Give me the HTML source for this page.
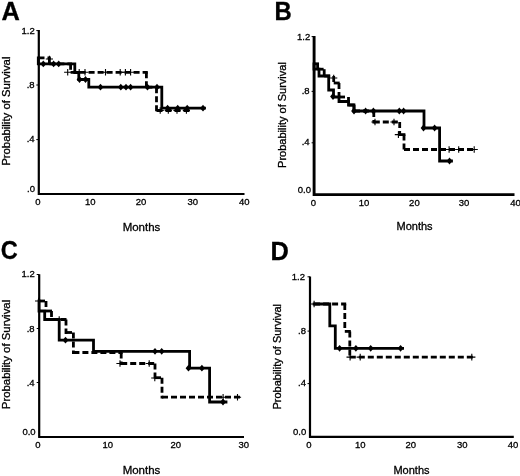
<!DOCTYPE html>
<html><head><meta charset="utf-8"><style>
html,body{margin:0;padding:0;background:#fff;}
svg{display:block;}
#w{width:520px;height:476px;filter:grayscale(1);}
text{font-family:"Liberation Sans", sans-serif;fill:#000;stroke:#000;stroke-width:0.3px;}
</style></head><body><div id="w">
<svg width="520" height="476" viewBox="0 0 520 476">
<rect width="520" height="476" fill="#fff"/>
<text x="0" y="0" font-size="25.4" font-weight="bold" transform="translate(1.5 19.6) scale(1 1)">A</text>
<path d="M38.8 30.0V195.0M37.8 194.0H244.5" stroke="#000" stroke-width="2.2" fill="none"/>
<path d="M36.3 30.6H38.8M36.3 85.0H38.8M36.3 139.6H38.8" stroke="#000" stroke-width="1" fill="none"/>
<text x="34.8" y="33.8" font-size="9.5" text-anchor="end" font-weight="normal" >1.2</text>
<text x="34.6" y="87.8" font-size="9.5" text-anchor="end" font-weight="normal" >.8</text>
<text x="34.6" y="142.0" font-size="9.5" text-anchor="end" font-weight="normal" >.4</text>
<text x="35.0" y="192.0" font-size="9.5" text-anchor="end" font-weight="normal" >.0</text>
<text x="37.8" y="204.7" font-size="9.5" text-anchor="middle" font-weight="normal" >0</text>
<text x="90.3" y="204.7" font-size="9.5" text-anchor="middle" font-weight="normal" >10</text>
<text x="141.0" y="204.7" font-size="9.5" text-anchor="middle" font-weight="normal" >20</text>
<text x="192.7" y="204.7" font-size="9.5" text-anchor="middle" font-weight="normal" >30</text>
<text x="244.2" y="204.7" font-size="9.5" text-anchor="middle" font-weight="normal" >40</text>
<text x="141.5" y="230.9" font-size="11.5" text-anchor="middle" font-weight="normal" >Months</text>
<text x="0" y="0" font-size="11.36" text-anchor="middle" transform="translate(9.7 111.2) rotate(-90)">Probability of Survival</text>
<path d="M38.3 57.8V63.9H74.8V72.5H78.8V79.5H88.8V87.2H161.8V108.2H204.5" stroke="#000" stroke-width="2.8" fill="none" stroke-linejoin="miter" stroke-linecap="square"/>
<g stroke="#000" stroke-width="2.8" fill="none" stroke-linecap="square" stroke-dasharray="3.20 5.80" stroke-dashoffset="-1.40"><path d="M38.5 57.8L49.4 57.8"/><path d="M49.4 57.8L49.4 63.8"/><path d="M49.4 63.8L70.6 63.8"/><path d="M70.6 63.8L70.6 72.3"/><path d="M70.6 72.3L146.4 72.3"/><path d="M146.4 72.3L146.4 87.2"/><path d="M146.4 87.2L156.5 87.2"/><path d="M156.5 87.2L156.5 110.5"/><path d="M156.5 110.5L189.0 110.5"/></g>
<g fill="#000"><path d="M40.4 63.9L43.3 60.5L46.2 63.9L43.3 67.3Z"/><path d="M50.7 63.9L53.6 60.5L56.5 63.9L53.6 67.3Z"/><path d="M55.8 63.9L58.7 60.5L61.6 63.9L58.7 67.3Z"/><path d="M76.6 79.5L79.5 76.1L82.4 79.5L79.5 82.9Z"/><path d="M82.6 79.5L85.5 76.1L88.4 79.5L85.5 82.9Z"/><path d="M97.6 87.2L100.5 83.8L103.4 87.2L100.5 90.6Z"/><path d="M117.9 87.2L120.8 83.8L123.7 87.2L120.8 90.6Z"/><path d="M123.1 87.2L126.0 83.8L128.9 87.2L126.0 90.6Z"/><path d="M127.7 87.2L130.6 83.8L133.5 87.2L130.6 90.6Z"/><path d="M144.6 87.2L147.5 83.8L150.4 87.2L147.5 90.6Z"/><path d="M154.1 87.2L157.0 83.8L159.9 87.2L157.0 90.6Z"/><path d="M164.7 108.2L167.6 104.8L170.5 108.2L167.6 111.6Z"/><path d="M174.8 108.2L177.7 104.8L180.6 108.2L177.7 111.6Z"/><path d="M184.3 108.2L187.2 104.8L190.1 108.2L187.2 111.6Z"/><path d="M200.1 108.2L203.0 104.8L205.9 108.2L203.0 111.6Z"/></g>
<g stroke="#000" fill="none"><path d="M49.4 55.7V62.3M45.8 59.0H53.0" stroke-width="1.1"/><path d="M67.7 69.0V75.6M64.1 72.3H71.3" stroke-width="1.1"/><path d="M79.2 69.0V75.6M75.6 72.3H82.8" stroke-width="1.1"/><path d="M85.0 69.0V75.6M81.4 72.3H88.6" stroke-width="1.1"/><path d="M105.5 69.0V75.6M101.9 72.3H109.1" stroke-width="1.1"/><path d="M120.2 69.0V75.6M116.6 72.3H123.8" stroke-width="1.1"/><path d="M125.4 69.0V75.6M121.8 72.3H129.0" stroke-width="1.1"/><path d="M130.6 69.0V75.6M127.0 72.3H134.2" stroke-width="1.1"/><path d="M160.2 107.2V113.8M156.6 110.5H163.8" stroke-width="1.1"/><path d="M168.3 107.2V113.8M164.7 110.5H171.9" stroke-width="1.1"/><path d="M177.0 107.2V113.8M173.4 110.5H180.6" stroke-width="1.1"/><path d="M186.4 107.2V113.8M182.8 110.5H190.0" stroke-width="1.1"/></g>
<text x="0" y="0" font-size="25.4" font-weight="bold" transform="translate(274.6 19.6) scale(0.94 1)">B</text>
<path d="M314.1 36.0V196.0M313.0 194.6H514.5" stroke="#000" stroke-width="2.9" fill="none"/>
<path d="M311.6 36.6H314.1M311.6 91.4H314.1M311.6 142.8H314.1" stroke="#000" stroke-width="1" fill="none"/>
<text x="310.2" y="40.4" font-size="9.5" text-anchor="end" font-weight="normal" >1.2</text>
<text x="309.6" y="93.6" font-size="9.5" text-anchor="end" font-weight="normal" >.8</text>
<text x="309.6" y="145.1" font-size="9.5" text-anchor="end" font-weight="normal" >.4</text>
<text x="311.0" y="193.0" font-size="9.5" text-anchor="end" font-weight="normal" >0.0</text>
<text x="313.3" y="205.6" font-size="9.5" text-anchor="middle" font-weight="normal" >0</text>
<text x="364.0" y="205.6" font-size="9.5" text-anchor="middle" font-weight="normal" >10</text>
<text x="414.4" y="205.6" font-size="9.5" text-anchor="middle" font-weight="normal" >20</text>
<text x="464.1" y="205.6" font-size="9.5" text-anchor="middle" font-weight="normal" >30</text>
<text x="515.5" y="205.6" font-size="9.5" text-anchor="middle" font-weight="normal" >40</text>
<text x="414.6" y="230.3" font-size="11.0" text-anchor="middle" font-weight="normal" >Months</text>
<text x="0" y="0" font-size="11.0" text-anchor="middle" transform="translate(285.6 115.0) rotate(-90)">Probability of Survival</text>
<path d="M314 63.8V69.2H319V76H328.7V90H333.5V97H339V101.5H348.5V105H354V111H424V128H439.6V161H451.5" stroke="#000" stroke-width="2.8" fill="none" stroke-linejoin="miter" stroke-linecap="square"/>
<g stroke="#000" stroke-width="2.8" fill="none" stroke-linecap="square" stroke-dasharray="3.20 5.80" stroke-dashoffset="-1.40"><path d="M314.0 63.8L317.6 63.8"/><path d="M317.6 63.8L317.6 69.2"/><path d="M317.6 69.2L324.2 69.2"/><path d="M324.2 69.2L324.2 76.0"/><path d="M324.2 76.0L333.7 76.0"/><path d="M333.7 76.0L333.7 83.0"/><path d="M333.7 83.0L339.0 83.0"/><path d="M339.0 83.0L339.0 97.0"/><path d="M339.0 97.0L348.5 97.0"/><path d="M348.5 97.0L348.5 105.0"/><path d="M348.5 105.0L354.0 105.0"/><path d="M354.0 105.0L354.0 111.0"/><path d="M354.0 111.0L373.8 111.0"/><path d="M373.8 111.0L373.8 122.0"/><path d="M373.8 122.0L399.7 122.0"/><path d="M399.7 122.0L399.7 134.6"/><path d="M399.7 134.6L404.0 134.6"/><path d="M404.0 134.6L404.0 149.5"/><path d="M404.0 149.5L474.0 149.5"/></g>
<g fill="#000"><path d="M330.1 96.5L333.0 93.1L335.9 96.5L333.0 99.9Z"/><path d="M351.1 111.0L354.0 107.6L356.9 111.0L354.0 114.4Z"/><path d="M362.7 111.0L365.6 107.6L368.5 111.0L365.6 114.4Z"/><path d="M370.5 111.0L373.4 107.6L376.3 111.0L373.4 114.4Z"/><path d="M396.4 111.0L399.3 107.6L402.2 111.0L399.3 114.4Z"/><path d="M400.7 111.0L403.6 107.6L406.5 111.0L403.6 114.4Z"/><path d="M420.6 128.0L423.5 124.6L426.4 128.0L423.5 131.4Z"/><path d="M431.7 128.0L434.6 124.6L437.5 128.0L434.6 131.4Z"/><path d="M446.6 161.0L449.5 157.6L452.4 161.0L449.5 164.4Z"/></g>
<g stroke="#000" fill="none"><path d="M333.7 74.7V81.3M330.1 78.0H337.3" stroke-width="1.1"/><path d="M375.0 118.7V125.3M371.4 122.0H378.6" stroke-width="1.1"/><path d="M394.0 118.7V125.3M390.4 122.0H397.6" stroke-width="1.1"/><path d="M398.4 131.3V137.9M394.8 134.6H402.0" stroke-width="1.1"/><path d="M449.1 146.2V152.8M445.5 149.5H452.7" stroke-width="1.1"/><path d="M458.7 146.2V152.8M455.1 149.5H462.3" stroke-width="1.1"/><path d="M474.2 146.2V152.8M470.6 149.5H477.8" stroke-width="1.1"/></g>
<text x="0" y="0" font-size="26.2" font-weight="bold" transform="translate(0.7 259.1) scale(0.9 1)">C</text>
<path d="M39.2 274.3V437.5M38.2 437.0H244.0" stroke="#000" stroke-width="2.2" fill="none"/>
<path d="M36.7 274.5H39.2M36.7 328.5H39.2M36.7 382.5H39.2" stroke="#000" stroke-width="1" fill="none"/>
<text x="34.8" y="276.6" font-size="9.5" text-anchor="end" font-weight="normal" >1.2</text>
<text x="34.6" y="331.8" font-size="9.5" text-anchor="end" font-weight="normal" >.8</text>
<text x="34.6" y="385.6" font-size="9.5" text-anchor="end" font-weight="normal" >.4</text>
<text x="35.6" y="435.0" font-size="9.5" text-anchor="end" font-weight="normal" >0.0</text>
<text x="37.8" y="448.0" font-size="9.5" text-anchor="middle" font-weight="normal" >0</text>
<text x="107.7" y="448.0" font-size="9.5" text-anchor="middle" font-weight="normal" >10</text>
<text x="175.8" y="448.0" font-size="9.5" text-anchor="middle" font-weight="normal" >20</text>
<text x="243.7" y="448.0" font-size="9.5" text-anchor="middle" font-weight="normal" >30</text>
<text x="141.5" y="474.1" font-size="11.5" text-anchor="middle" font-weight="normal" >Months</text>
<text x="0" y="0" font-size="11.38" text-anchor="middle" transform="translate(9.7 354.5) rotate(-90)">Probability of Survival</text>
<path d="M39 301V311H44.7V319.5H59.2V340.2H93.5V351.3H189.6V368.2H209.6V402H226" stroke="#000" stroke-width="2.8" fill="none" stroke-linejoin="miter" stroke-linecap="square"/>
<g stroke="#000" stroke-width="2.8" fill="none" stroke-linecap="square" stroke-dasharray="3.20 5.80" stroke-dashoffset="-1.40"><path d="M39.0 301.0L46.0 301.0"/><path d="M46.0 301.0L46.0 311.0"/><path d="M46.0 311.0L51.5 311.0"/><path d="M51.5 311.0L51.5 319.5"/><path d="M51.5 319.5L66.0 319.5"/><path d="M66.0 319.5L66.0 332.5"/><path d="M66.0 332.5L73.4 332.5"/><path d="M73.4 332.5L73.4 352.5"/><path d="M73.4 352.5L121.2 352.5"/><path d="M121.2 352.5L121.2 363.5"/><path d="M121.2 363.5L155.0 363.5"/><path d="M155.0 363.5L155.0 377.7"/><path d="M155.0 377.7L162.0 377.7"/><path d="M162.0 377.7L162.0 397.2"/><path d="M162.0 397.2L239.4 397.2"/></g>
<g fill="#000"><path d="M62.6 340.2L65.5 336.8L68.4 340.2L65.5 343.6Z"/><path d="M152.1 351.3L155.0 347.9L157.9 351.3L155.0 354.7Z"/><path d="M158.8 351.3L161.7 347.9L164.6 351.3L161.7 354.7Z"/><path d="M185.6 368.2L188.5 364.8L191.4 368.2L188.5 371.6Z"/><path d="M199.0 368.2L201.9 364.8L204.8 368.2L201.9 371.6Z"/><path d="M220.1 402.0L223.0 398.6L225.9 402.0L223.0 405.4Z"/></g>
<g stroke="#000" fill="none"><path d="M38.6 297.7V304.3M35.0 301.0H42.2" stroke-width="1.1"/><path d="M59.2 316.2V322.8M55.6 319.5H62.8" stroke-width="1.1"/><path d="M120.0 360.2V366.8M116.4 363.5H123.6" stroke-width="1.1"/><path d="M149.2 360.2V366.8M145.6 363.5H152.8" stroke-width="1.1"/><path d="M154.8 374.7V381.3M151.2 378.0H158.4" stroke-width="1.1"/><path d="M223.1 393.9V400.5M219.5 397.2H226.7" stroke-width="1.1"/><path d="M237.5 393.9V400.5M233.9 397.2H241.1" stroke-width="1.1"/></g>
<text x="0" y="0" font-size="25.4" font-weight="bold" transform="translate(270.5 259.9) scale(1 1)">D</text>
<path d="M310.0 276.5V437.9M309.0 436.9H513.8" stroke="#000" stroke-width="2.2" fill="none"/>
<path d="M307.5 276.8H310.0M307.5 331.1H310.0M307.5 383.6H310.0" stroke="#000" stroke-width="1" fill="none"/>
<text x="305.0" y="279.9" font-size="9.5" text-anchor="end" font-weight="normal" >1.2</text>
<text x="306.0" y="333.6" font-size="9.5" text-anchor="end" font-weight="normal" >.8</text>
<text x="306.0" y="386.1" font-size="9.5" text-anchor="end" font-weight="normal" >.4</text>
<text x="306.3" y="434.8" font-size="9.5" text-anchor="end" font-weight="normal" >0.0</text>
<text x="308.8" y="447.5" font-size="9.5" text-anchor="middle" font-weight="normal" >0</text>
<text x="360.2" y="447.5" font-size="9.5" text-anchor="middle" font-weight="normal" >10</text>
<text x="410.7" y="447.5" font-size="9.5" text-anchor="middle" font-weight="normal" >20</text>
<text x="462.3" y="447.5" font-size="9.5" text-anchor="middle" font-weight="normal" >30</text>
<text x="513.1" y="447.5" font-size="9.5" text-anchor="middle" font-weight="normal" >40</text>
<text x="411.5" y="473.9" font-size="11.0" text-anchor="middle" font-weight="normal" >Months</text>
<text x="0" y="0" font-size="10.98" text-anchor="middle" transform="translate(280.9 356.8) rotate(-90)">Probability of Survival</text>
<path d="M314.1 304H329.8V325.8H335.3V348.3H402.6" stroke="#000" stroke-width="2.8" fill="none" stroke-linejoin="miter" stroke-linecap="square"/>
<g stroke="#000" stroke-width="2.8" fill="none" stroke-linecap="square" stroke-dasharray="3.20 5.80" stroke-dashoffset="-1.40"><path d="M314.1 304.0L344.8 304.0"/><path d="M344.8 304.0L344.8 331.4"/><path d="M344.8 331.4L349.8 331.4"/><path d="M349.8 331.4L349.8 357.1"/><path d="M349.8 357.1L472.3 357.1"/></g>
<g fill="#000"><path d="M336.7 348.3L339.6 344.9L342.5 348.3L339.6 351.7Z"/><path d="M353.0 348.3L355.9 344.9L358.8 348.3L355.9 351.7Z"/><path d="M367.8 348.3L370.7 344.9L373.6 348.3L370.7 351.7Z"/><path d="M397.7 348.3L400.6 344.9L403.5 348.3L400.6 351.7Z"/></g>
<g stroke="#000" fill="none"><path d="M314.1 300.7V307.3M310.5 304.0H317.7" stroke-width="1.1"/><path d="M350.1 353.8V360.4M346.5 357.1H353.7" stroke-width="1.1"/><path d="M360.2 353.8V360.4M356.6 357.1H363.8" stroke-width="1.1"/><path d="M471.8 353.8V360.4M468.2 357.1H475.4" stroke-width="1.1"/></g>
</svg></div>
</body></html>
